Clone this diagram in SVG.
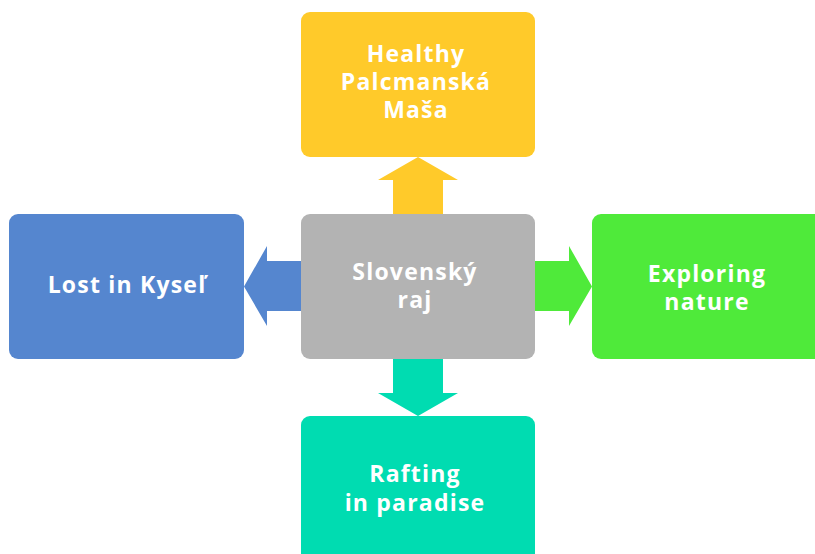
<svg xmlns="http://www.w3.org/2000/svg" width="815" height="554" viewBox="0 0 815 554">
<style>
.t{font-family:"Open Sans","Liberation Sans",sans-serif;font-weight:700;font-size:23px;letter-spacing:1.2px;fill:#ffffff;text-anchor:middle}
</style>
<rect width="815" height="554" fill="#ffffff"/>
<g id="connectors">
<polygon points="393,214 393,180 378,180 418,157 458,180 443,180 443,214" fill="#FFCA2A"/>
<polygon points="393,359 393,393 378,393 418,416 458,393 443,393 443,359" fill="#00DCB1"/>
<polygon points="301,261 267,261 267,246 244,286.5 267,326 267,311 301,311" fill="#5586CF"/>
<polygon points="535,261 569,261 569,246 592,286.5 569,326 569,311 535,311" fill="#4FEA3A"/>
</g>
<g id="center">
<rect x="301" y="214" width="234" height="145" rx="9" fill="#B3B3B3"/>
<text class="t" x="415" y="280">Slovenský</text>
<text class="t" x="415" y="308">raj</text>
</g>
<g id="top">
<rect x="301" y="12" width="234" height="145" rx="9" fill="#FFCA2A"/>
<text class="t" x="416" y="62">Healthy</text>
<text class="t" x="416" y="90">Palcmanská</text>
<text class="t" x="416" y="118">Maša</text>
</g>
<g id="left">
<rect x="9" y="214" width="235" height="145" rx="9" fill="#5586CF"/>
<text class="t" x="127" y="293">Lost in Kyseľ</text>
</g>
<g id="right">
<rect x="592" y="214" width="240" height="145" rx="9" fill="#4FEA3A"/>
<text class="t" x="707" y="282">Exploring</text>
<text class="t" x="707" y="310">nature</text>
</g>
<g id="bottom">
<rect x="301" y="416" width="234" height="150" rx="9" fill="#00DCB1"/>
<text class="t" x="415" y="482">Rafting</text>
<text class="t" x="415" y="511">in paradise</text>
</g>
</svg>
